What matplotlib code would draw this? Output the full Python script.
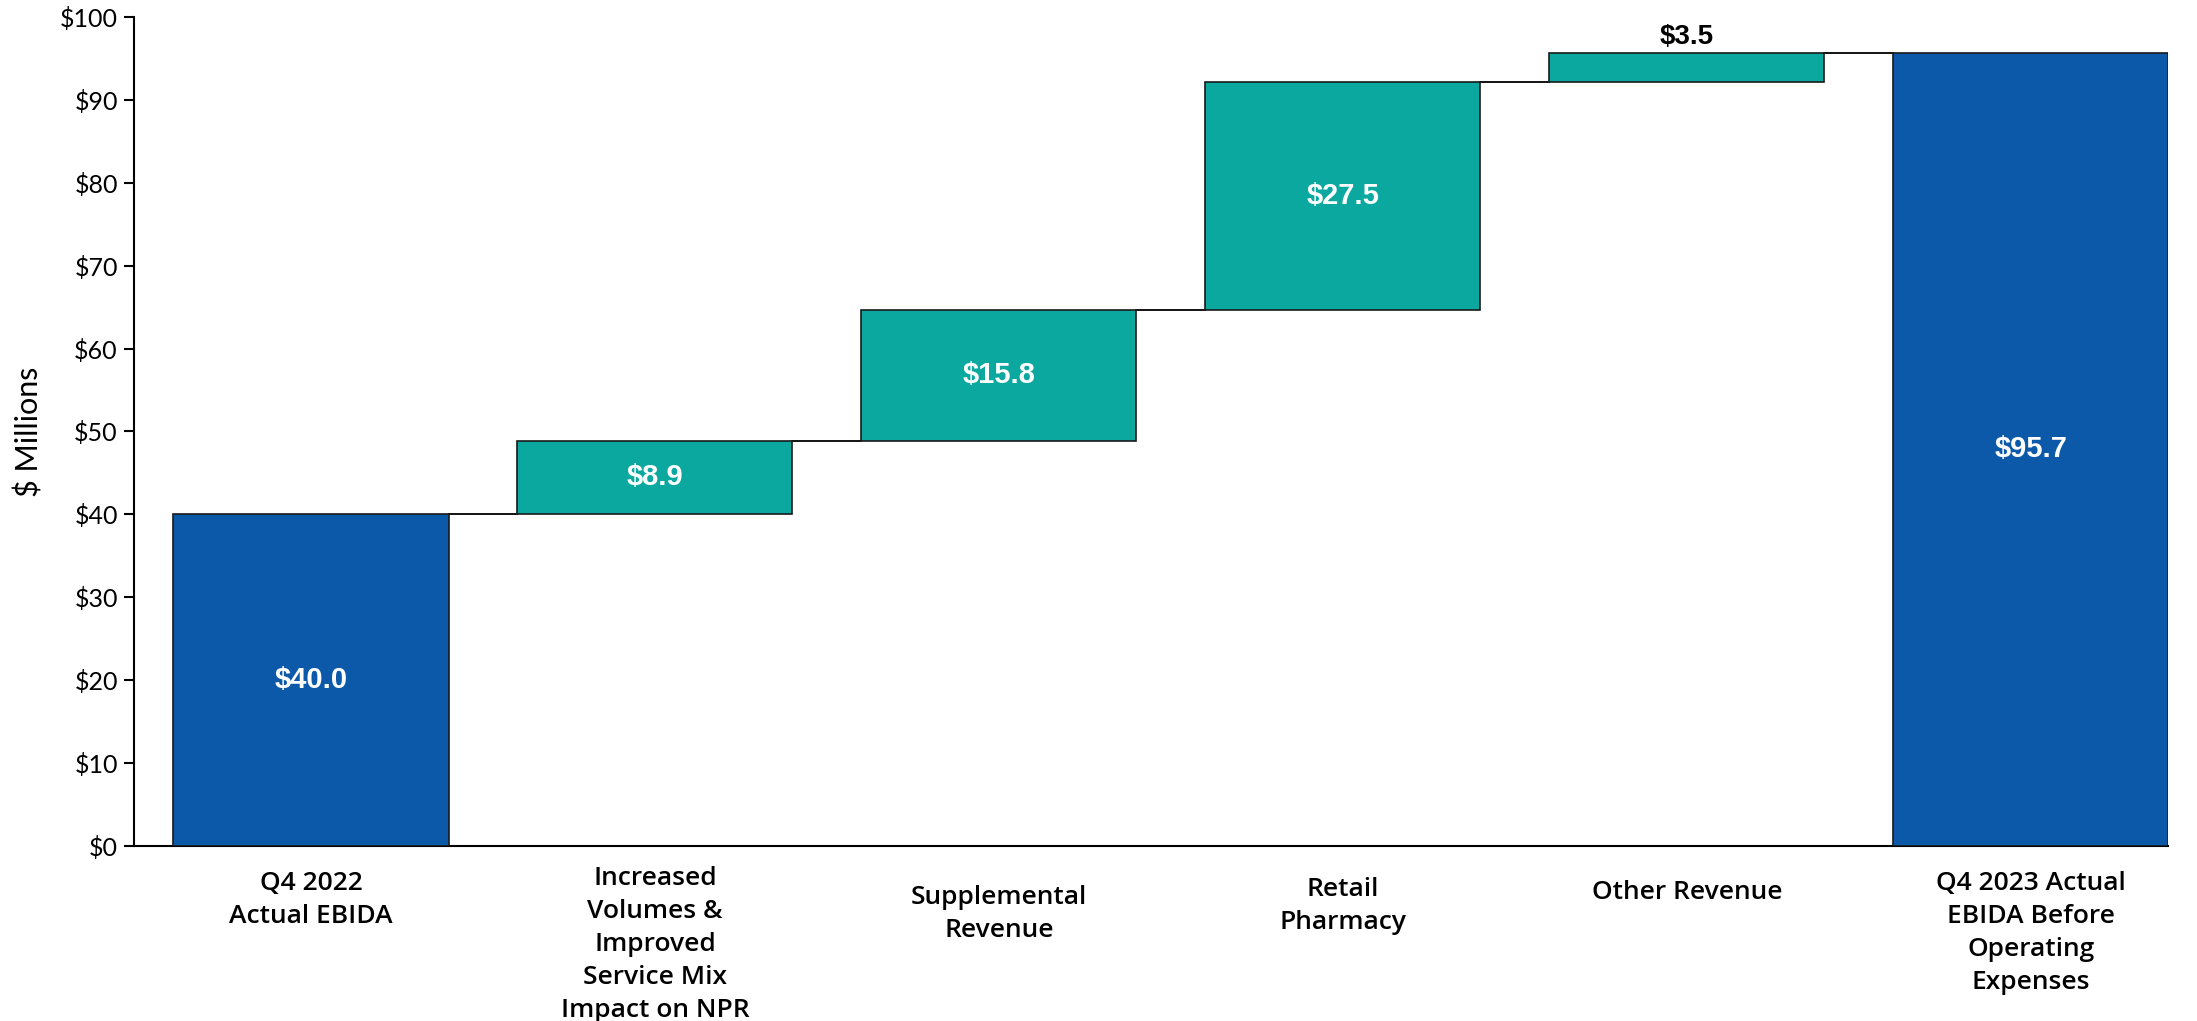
import matplotlib
matplotlib.use("Agg")
import matplotlib.pyplot as plt
from matplotlib import transforms

# ---- data ----
categories = [
    "Q4 2022\nActual EBIDA",
    "Increased\nVolumes &\nImproved\nService Mix\nImpact on NPR",
    "Supplemental\nRevenue",
    "Retail\nPharmacy",
    "Other Revenue",
    "Q4 2023 Actual\nEBIDA Before\nOperating\nExpenses",
]
values = [40.0, 8.9, 15.8, 27.5, 3.5, 95.7]
is_total = [True, False, False, False, False, True]
value_labels = ["$40.0", "$8.9", "$15.8", "$27.5", "$3.5", "$95.7"]
yticks = [0, 10, 20, 30, 40, 50, 60, 70, 80, 90, 100]
ytick_labels = ["$0", "$10", "$20", "$30", "$40", "$50", "$60", "$70", "$80", "$90", "$100"]

# ---- style ----
BLUE = "#0C59A9"
TEAL = "#0AA89F"
label_pad_pts = [18, 14.5, 28, 22.5, 24.5, 18]
bar_width = 0.8

fig = plt.figure(figsize=(21.97, 10.21), dpi=100)
ax = fig.add_axes([0.0612, 0.1714, 0.9258, 0.812])

# compute bottoms for waterfall
bottoms = []
running = 0.0
for v, tot in zip(values, is_total):
    if tot:
        bottoms.append(0.0)
        running = v
    else:
        bottoms.append(running)
        running += v

x = list(range(len(values)))
colors = [BLUE if t else TEAL for t in is_total]
ax.bar(x, values, bottom=bottoms, width=bar_width, color=colors,
       edgecolor="#1a1a1a", linewidth=1.2, zorder=3)

# connectors
for i in range(len(values) - 1):
    level = bottoms[i] + values[i]
    ax.plot([x[i] + bar_width / 2, x[i + 1] - bar_width / 2], [level, level],
            color="black", linewidth=1.3, zorder=2)

# value labels
for i, (v, b, lab) in enumerate(zip(values, bottoms, value_labels)):
    if v >= 6:
        ax.text(x[i], b + v / 2, lab, ha="center", va="center", color="white",
                fontsize=21, fontweight="bold", family="Liberation Sans", zorder=4)
    else:
        ax.text(x[i], b + v + 0.3, lab, ha="center", va="bottom", color="black",
                fontsize=20, fontweight="bold", family="Liberation Sans", zorder=4)

# category labels
for i, (cat, pad) in enumerate(zip(categories, label_pad_pts)):
    tr = transforms.offset_copy(ax.get_xaxis_transform(), fig=fig, x=0, y=-pad, units="points")
    ax.text(x[i], 0, cat, transform=tr, ha="center", va="top", multialignment="center",
            fontsize=19, fontweight="semibold", family="Open Sans", linespacing=1.42,
            color="black")

ax.set_xlim(-0.513, 5.4)
ax.set_ylim(0, 100)
ax.set_xticks([])
ax.set_yticks(yticks)
ax.set_yticklabels(ytick_labels, family="Lato", fontsize=18)
ax.tick_params(axis="y", direction="out", length=7, width=1.5, pad=5, colors="black")
ax.spines["top"].set_visible(False)
ax.spines["right"].set_visible(False)
ax.spines["left"].set_linewidth(1.5)
ax.spines["bottom"].set_linewidth(1.5)
ax.set_ylabel("$ Millions", family="Lato", fontsize=22, labelpad=12)

fig.savefig("out.png", dpi=100)
